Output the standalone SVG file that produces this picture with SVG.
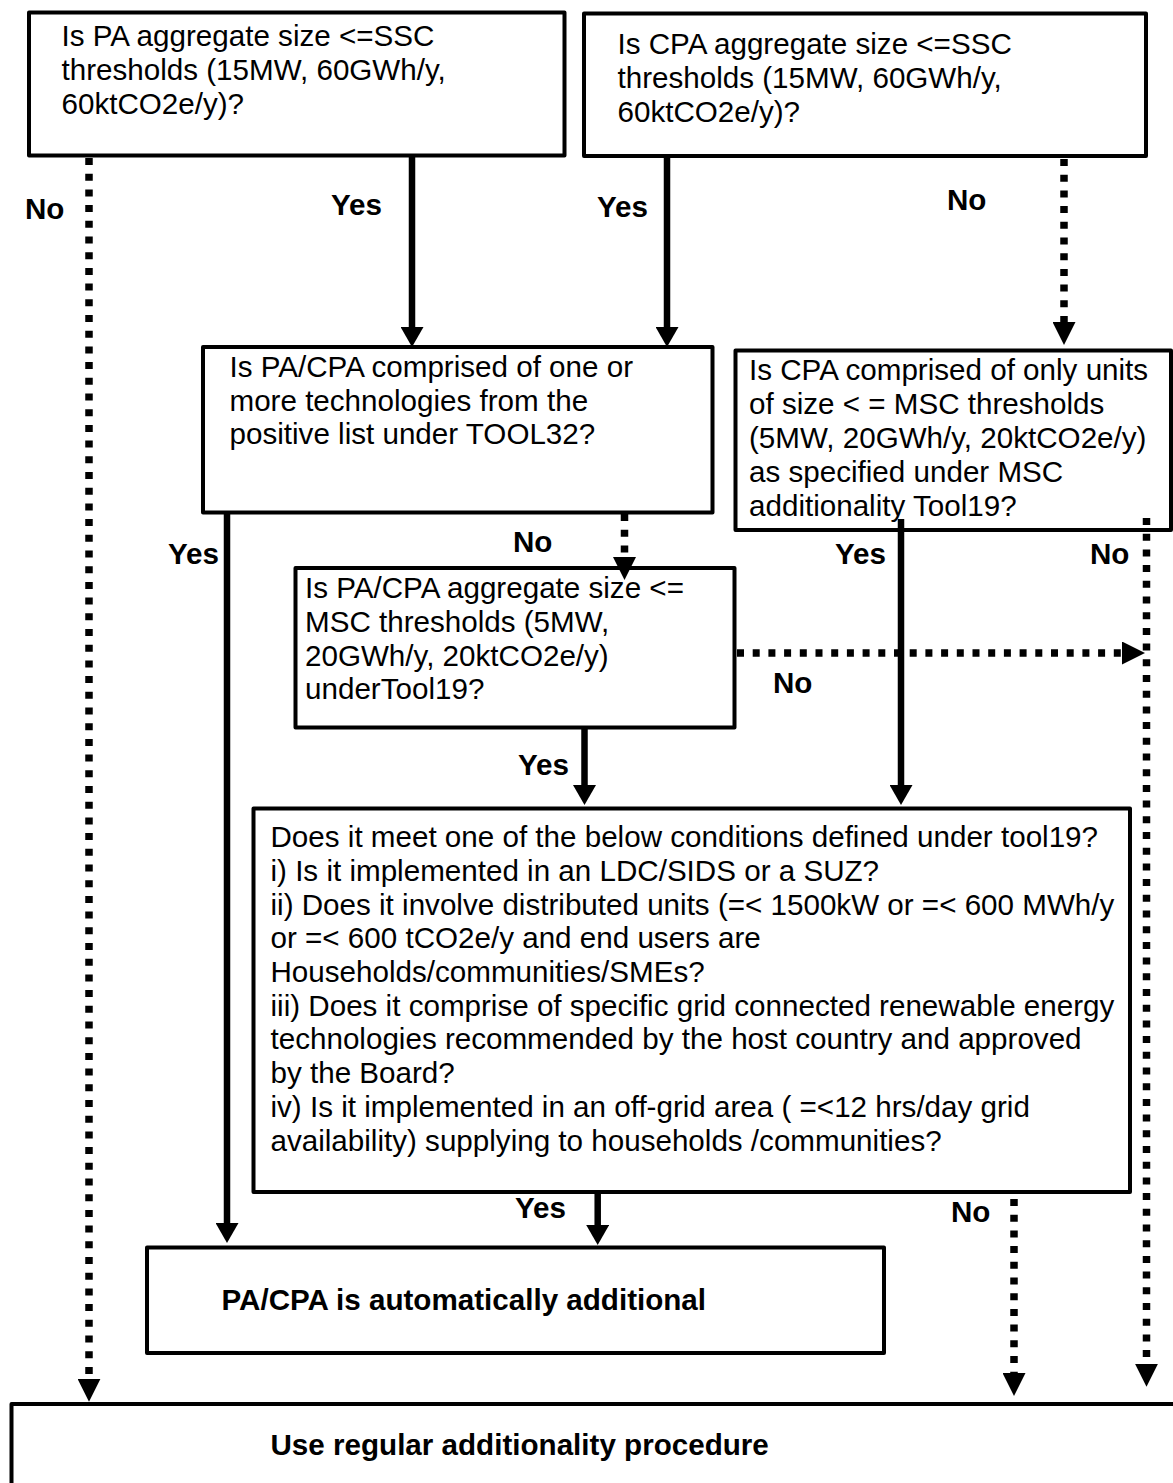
<svg xmlns="http://www.w3.org/2000/svg" width="1173" height="1483" viewBox="0 0 1173 1483">
<style>
.box{fill:#fff;stroke:#000;stroke-width:4;stroke-linejoin:round}
.t{font-family:"Liberation Sans",Arial,sans-serif;font-size:29.6px;fill:#000}
.b{font-family:"Liberation Sans",Arial,sans-serif;font-size:29.6px;font-weight:bold;fill:#000}
.solid{fill:none;stroke:#000;stroke-width:6.5;stroke-linecap:butt}
.dot{fill:none;stroke:#000;stroke-width:7.5;stroke-dasharray:7 8.7;stroke-linecap:butt}
</style>
<defs>
<marker id="as" markerUnits="userSpaceOnUse" viewBox="0 0 20 23" refX="0" refY="11.5" markerWidth="20" markerHeight="23" orient="auto"><path d="M0,0 L20,11.5 L0,23 z" fill="#000"/></marker>
<marker id="ad" markerUnits="userSpaceOnUse" viewBox="0 0 23 23" refX="0" refY="11.5" markerWidth="23" markerHeight="23" orient="auto"><path d="M0,0 L23,11.5 L0,23 z" fill="#000"/></marker>
</defs>
<rect width="1173" height="1483" fill="#fff"/>

<g id="n_pa_ssc">
<rect class="box" x="29" y="12.5" width="535.5" height="143"/>
<text class="t"><tspan x="61.5" y="45.5">Is PA aggregate size &lt;=SSC</tspan><tspan x="61.5" y="79.5">thresholds (15MW, 60GWh/y,</tspan><tspan x="61.5" y="113.5">60ktCO2e/y)?</tspan></text>
</g>

<g id="n_cpa_ssc">
<rect class="box" x="584" y="13.5" width="562" height="142.5"/>
<text class="t"><tspan x="617.5" y="54">Is CPA aggregate size &lt;=SSC</tspan><tspan x="617.5" y="88">thresholds (15MW, 60GWh/y,</tspan><tspan x="617.5" y="122">60ktCO2e/y)?</tspan></text>
</g>

<g id="n_tool32">
<rect class="box" x="203" y="347" width="509.5" height="165.5"/>
<text class="t"><tspan x="229.5" y="377">Is PA/CPA comprised of one or</tspan><tspan x="229.5" y="410.5">more technologies from the</tspan><tspan x="229.5" y="444">positive list under TOOL32?</tspan></text>
</g>

<g id="n_cpa_units">
<rect class="box" x="735.5" y="350.5" width="435.5" height="179.5"/>
<text class="t"><tspan x="749" y="380">Is CPA comprised of only units</tspan><tspan x="749" y="414">of size &lt; = MSC thresholds</tspan><tspan x="749" y="448">(5MW, 20GWh/y, 20ktCO2e/y)</tspan><tspan x="749" y="482">as specified under MSC</tspan><tspan x="749" y="515.5">additionality Tool19?</tspan></text>
</g>

<g id="n_msc">
<rect class="box" x="295.5" y="568" width="439" height="159.5"/>
<text class="t"><tspan x="305" y="598">Is PA/CPA aggregate size &lt;=</tspan><tspan x="305" y="632">MSC thresholds (5MW,</tspan><tspan x="305" y="665.5">20GWh/y, 20ktCO2e/y)</tspan><tspan x="305" y="699">underTool19?</tspan></text>
</g>

<g id="n_conditions">
<rect class="box" x="253.5" y="808.5" width="876.5" height="383.5"/>
<text class="t"><tspan x="270.5" y="847">Does it meet one of the below conditions defined under tool19?</tspan><tspan x="270.5" y="880.7">i) Is it implemented in an LDC/SIDS or a SUZ?</tspan><tspan x="270.5" y="914.5">ii) Does it involve distributed units (=&lt; 1500kW or =&lt; 600 MWh/y</tspan><tspan x="270.5" y="948">or =&lt; 600 tCO2e/y and end users are</tspan><tspan x="270.5" y="981.7">Households/communities/SMEs?</tspan><tspan x="270.5" y="1015.5">iii) Does it comprise of specific grid connected renewable energy</tspan><tspan x="270.5" y="1049">technologies recommended by the host country and approved</tspan><tspan x="270.5" y="1083">by the Board?</tspan><tspan x="270.5" y="1116.7">iv) Is it implemented in an off-grid area ( =&lt;12 hrs/day grid</tspan><tspan x="270.5" y="1150.5">availability) supplying to households /communities?</tspan></text>
</g>

<g id="n_auto">
<rect class="box" x="147" y="1247.5" width="737" height="105.5"/>
<text class="b" x="221.5" y="1310">PA/CPA is automatically additional</text>
</g>

<g id="n_regular">
<rect class="box" x="11.5" y="1404" width="1200" height="200"/>
<text class="b" x="270.5" y="1455">Use regular additionality procedure</text>
</g>

<g id="connectors">
<line class="dot" x1="89" y1="158" x2="89" y2="1378.7" marker-end="url(#ad)"/>
<line class="solid" x1="412" y1="157" x2="412" y2="327" marker-end="url(#as)"/>
<line class="solid" x1="667" y1="157" x2="667" y2="327" marker-end="url(#as)"/>
<line class="dot" x1="1064" y1="159" x2="1064" y2="322" marker-end="url(#ad)"/>
<line class="solid" x1="227" y1="513" x2="227" y2="1223" marker-end="url(#as)"/>
<line class="dot" x1="624.5" y1="514" x2="624.5" y2="557" marker-end="url(#ad)"/>
<line class="solid" x1="901" y1="519" x2="901" y2="785" marker-end="url(#as)"/>
<line class="dot" x1="1146.5" y1="518" x2="1146.5" y2="1363.7" marker-end="url(#ad)"/>
<line class="dot" x1="737" y1="653" x2="1122" y2="653" marker-end="url(#ad)"/>
<line class="solid" x1="584.5" y1="728" x2="584.5" y2="785" marker-end="url(#as)"/>
<line class="solid" x1="597.7" y1="1193" x2="597.7" y2="1225" marker-end="url(#as)"/>
<line class="dot" x1="1014" y1="1199" x2="1014" y2="1373" marker-end="url(#ad)"/>
<text class="b" x="25" y="219">No</text>
<text class="b" x="331" y="215">Yes</text>
<text class="b" x="597" y="216.5">Yes</text>
<text class="b" x="947" y="210">No</text>
<text class="b" x="168" y="564">Yes</text>
<text class="b" x="513" y="551.5">No</text>
<text class="b" x="835" y="564.3">Yes</text>
<text class="b" x="1090" y="564.3">No</text>
<text class="b" x="773" y="692.5">No</text>
<text class="b" x="518" y="775">Yes</text>
<text class="b" x="515" y="1218">Yes</text>
<text class="b" x="951" y="1221.5">No</text>
</g>
</svg>
